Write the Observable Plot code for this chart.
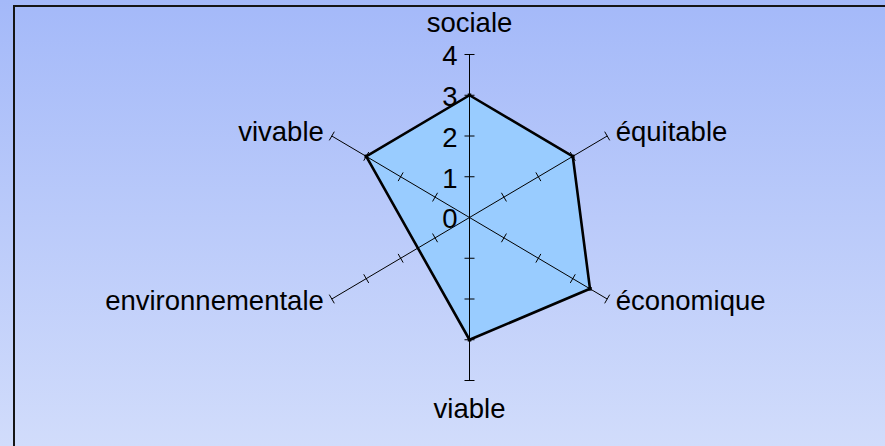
<!DOCTYPE html>
<html>
<head>
<meta charset="utf-8">
<script src="https://cdn.jsdelivr.net/npm/d3@7"></script>
<script src="https://cdn.jsdelivr.net/npm/@observablehq/plot@0.6"></script>
<style>
  html, body { margin: 0; padding: 0; }
  body { width: 885px; height: 446px; overflow: hidden; background: linear-gradient(#a4b9f9, #d1dcfb); }
  #wrap { position: relative; width: 885px; height: 446px; overflow: hidden; }
  #border { position: absolute; left: 13px; top: 5px; width: 1000px; height: 1000px;
            border-left: 2px solid #151515; border-top: 2px solid #151515; pointer-events: none; }
  svg { display: block; background: transparent !important; }
</style>
</head>
<body>
<div id="wrap"><div id="border"></div></div>
<script>
// ---- data ----
const categories = ["sociale", "équitable", "économique", "viable", "environnementale", "vivable"];
const values = [3, 3, 3.5, 3, null, 3]; // environnementale: no value plotted
const tickValues = [0, 1, 2, 3, 4];

// ---- build geometry ----
const rMax = d3.max(tickValues);
const n = categories.length;
const angle = i => (i * 2 * Math.PI) / n;
const kx = 39.75, ky = 40.75; // px per unit
const W = 885, H = 446, cx = 469, cy = 217;

const spokes = categories.map((c, i) => ({
  x1: 0, y1: 0,
  x2: rMax * Math.sin(angle(i)), y2: rMax * Math.cos(angle(i))
}));

const tickLen = 5; // px half-length
const ticks = [];
categories.forEach((c, i) => {
  const a = angle(i), s = Math.sin(a), co = Math.cos(a);
  tickValues.filter(v => v > 0).forEach(v => {
    const px = v * s, py = v * co;
    const ox = co * tickLen / kx, oy = -s * tickLen / ky;
    ticks.push({x1: px - ox, y1: py - oy, x2: px + ox, y2: py + oy});
  });
});

const poly = categories
  .map((c, i) => ({cat: c, v: values[i], x: values[i] * Math.sin(angle(i)), y: values[i] * Math.cos(angle(i))}))
  .filter(d => d.v != null);

const labels = categories.map((c, i) => {
  const s = Math.sin(angle(i)), co = Math.cos(angle(i));
  const anchor = s > 0.1 ? "start" : s < -0.1 ? "end" : "middle";
  const dxPx = anchor === "start" ? 8.5 : anchor === "end" ? -8 : 0;
  const dyPx = anchor === "middle" ? (co > 0 ? -31 : 29) : (co > 0 ? -4 : 2); // pixel offsets (down = +)
  return {text: c, x: rMax * s + dxPx / kx, y: rMax * co - dyPx / ky, anchor};
});

const tickLabels = tickValues.map(v => ({text: String(v), x: 0, y: v}));

const font = "'Liberation Sans', Arial, sans-serif";
const labelMark = a => Plot.text(labels.filter(d => d.anchor === a),
  {x: "x", y: "y", text: "text", textAnchor: a, fontSize: 27.5, fill: "#000"});

const chart = Plot.plot({
  width: W, height: H,
  margin: 0,
  x: {domain: [-cx / kx, (W - cx) / kx], range: [0, W], axis: null},
  y: {domain: [-(H - cy) / ky, cy / ky], range: [H, 0], axis: null},
  style: {background: "transparent", fontFamily: font},
  marks: [
    Plot.line(poly, {x: "x", y: "y", curve: "linear-closed", fill: "#99ccff", stroke: "none"}),
    Plot.link(spokes, {x1: "x1", y1: "y1", x2: "x2", y2: "y2", stroke: "#000", strokeWidth: 1}),
    Plot.link(ticks, {x1: "x1", y1: "y1", x2: "x2", y2: "y2", stroke: "#000", strokeWidth: 1}),
    Plot.line(poly, {x: "x", y: "y", curve: "linear-closed", fill: "none", stroke: "#000", strokeWidth: 2.6, strokeLinejoin: "miter"}),
    Plot.dot(poly, {x: "x", y: "y", r: 2, fill: "#000", symbol: "square"}),
    Plot.text(tickLabels, {x: "x", y: "y", text: "text", textAnchor: "end", dx: -12, dy: 2, fontSize: 27.5, fill: "#000"}),
    labelMark("start"),
    labelMark("middle"),
    labelMark("end")
  ]
});
document.getElementById("wrap").insertBefore(chart, document.getElementById("border"));
</script>
</body>
</html>
